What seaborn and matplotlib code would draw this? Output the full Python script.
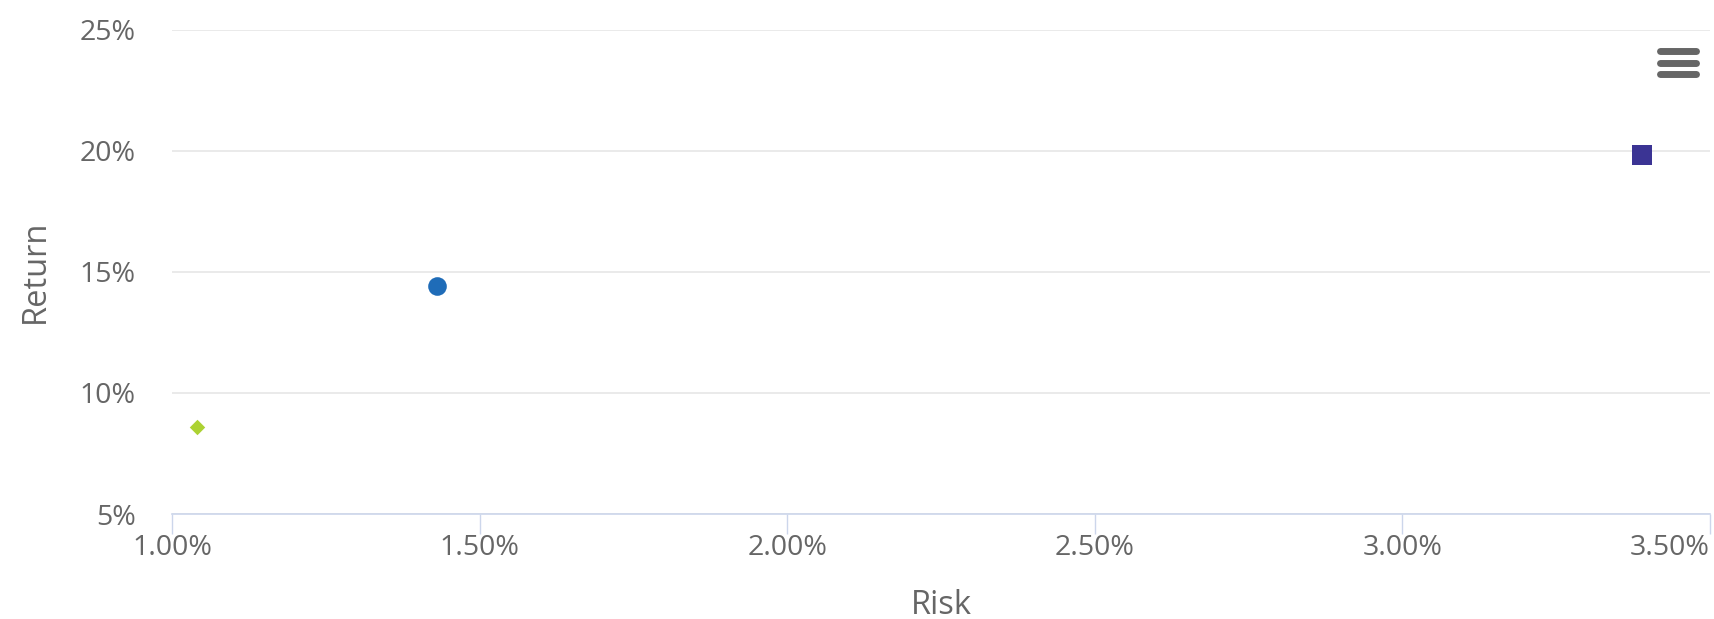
import matplotlib
matplotlib.use("Agg")
import matplotlib.pyplot as plt
from matplotlib.lines import Line2D
from matplotlib.ticker import FuncFormatter
import pandas as pd
import seaborn as sns

# values (percent)
series = ["Series A", "Series B", "Series C"]
risk = [1.04, 1.43, 3.39]
ret = [8.6, 14.4, 19.8]
colors = ["#acd233", "#1f6cb8", "#3b3494"]
markers = ["D", "o", "s"]
sizes = [62, 180, 210]

x_ticks = [1.0, 1.5, 2.0, 2.5, 3.0, 3.5]
y_ticks = [5, 10, 15, 20, 25]

sns.set_theme(style="white")
plt.rcParams['font.family'] = ['Open Sans', 'DejaVu Sans']

df = pd.DataFrame({"series": series, "risk": risk, "ret": ret})

fig = plt.figure(figsize=(17.15, 6.19), dpi=100)
ax = fig.add_axes([0.1003, 0.1696, 0.8967, 0.7827])

for i, row in df.iterrows():
    sns.scatterplot(data=df.iloc[[i]], x="risk", y="ret", color=colors[i],
                    marker=markers[i], s=sizes[i], linewidth=0, ax=ax, zorder=3)

ax.set_xlim(x_ticks[0], x_ticks[-1])
ax.set_ylim(y_ticks[0], y_ticks[-1])
ax.set_xticks(x_ticks)
ax.set_yticks(y_ticks)
ax.xaxis.set_major_formatter(FuncFormatter(lambda v, p: f"{v:.2f}%"))
ax.yaxis.set_major_formatter(FuncFormatter(lambda v, p: f"{v:.0f}%"))

ax.grid(axis="y", color="#e6e6e6", linewidth=1.2)
ax.grid(axis="x", visible=False)
for side in ["top", "right", "left"]:
    ax.spines[side].set_visible(False)
ax.spines["bottom"].set_color("#ccd6eb")
ax.spines["bottom"].set_linewidth(1.2)

ax.tick_params(axis="x", bottom=True, length=14.5, width=1, color="#ccd6eb",
               labelsize=20.5, labelcolor="#666666", pad=0)
ax.tick_params(axis="y", left=False, labelsize=20.5, labelcolor="#666666", pad=20)

# highcharts keeps the last x label inside the chart
ax.get_xticklabels()[-1].set_ha("right")

ax.set_xlabel("Risk", fontsize=23.5, color="#666666", labelpad=19)
ax.set_ylabel("Return", fontsize=23.5, color="#666666", labelpad=20)

# menu icon in the top right corner
for yy in [0.918, 0.899, 0.880]:
    fig.add_artist(Line2D([0.968, 0.989], [yy, yy], color="#666666",
                          linewidth=5, solid_capstyle="round"))

fig.savefig("out.png", dpi=100, facecolor="white")
plt.close(fig)
